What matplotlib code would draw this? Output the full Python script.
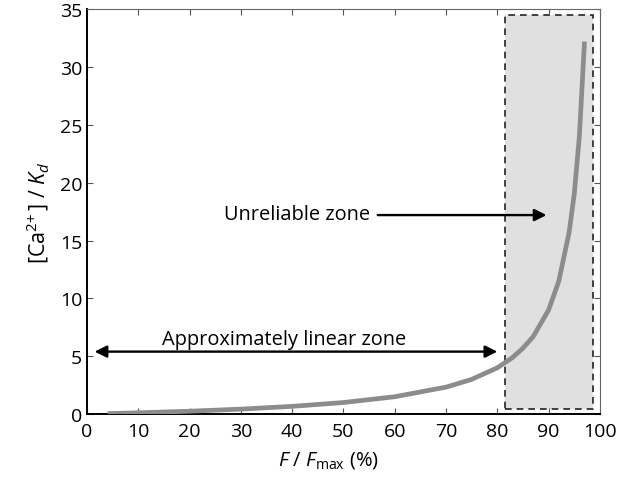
import matplotlib
matplotlib.use("Agg")
import matplotlib.pyplot as plt
from matplotlib.patches import Rectangle

plt.rcParams["font.family"] = ["Open Sans", "DejaVu Sans"]
plt.rcParams["mathtext.fontset"] = "custom"
plt.rcParams["mathtext.rm"] = "Open Sans"
plt.rcParams["mathtext.it"] = "Open Sans:italic"

# values
f_pct = [4, 10, 20, 30, 40, 50, 60, 70, 75, 80, 83, 85, 87, 90, 92, 94, 95, 96, 97]
ca_kd = [0.04, 0.11, 0.25, 0.43, 0.67, 1.0, 1.5, 2.33, 3.0, 4.0, 4.9, 5.7, 6.7,
         9.0, 11.5, 15.7, 19.0, 24.0, 32.2]

x_ticks = [0, 10, 20, 30, 40, 50, 60, 70, 80, 90, 100]
y_ticks = [0, 5, 10, 15, 20, 25, 30, 35]

zone_x = (81.5, 98.6)
zone_y = (0.4, 34.5)

fig = plt.figure(figsize=(6.21, 4.81), dpi=100)
ax = fig.add_axes([0.140, 0.137, 0.826, 0.842])

ax.add_patch(Rectangle((zone_x[0], zone_y[0]), zone_x[1] - zone_x[0],
                       zone_y[1] - zone_y[0], facecolor="#e0e0e0",
                       edgecolor="#222222", linestyle=(0, (4, 3)),
                       linewidth=1.2, zorder=1))

ax.plot(f_pct, ca_kd, color="#8c8c8c", linewidth=3.4, zorder=3,
        solid_capstyle="butt")

ax.annotate("", xy=(1.5, 5.4), xytext=(80, 5.4),
            arrowprops=dict(arrowstyle="<|-|>", color="black", lw=1.7,
                            mutation_scale=18, shrinkA=0, shrinkB=0))
ax.text(38.4, 6.5, "Approximately linear zone", ha="center", va="center",
        fontsize=14.4)

ax.annotate("", xy=(89.6, 17.2), xytext=(56.7, 17.2),
            arrowprops=dict(arrowstyle="-|>", color="black", lw=1.7,
                            mutation_scale=18, shrinkA=0, shrinkB=0))
ax.text(41.0, 17.3, "Unreliable zone", ha="center", va="center",
        fontsize=14.4)

ax.set_xlim(0, 100)
ax.set_ylim(0, 35)
ax.set_xticks(x_ticks)
ax.set_yticks(y_ticks)
ax.tick_params(direction="in", top=True, right=True, labelsize=14,
               length=4, color="#555555")
ax.tick_params(axis="x", pad=6)
for side in ["left", "bottom"]:
    ax.spines[side].set_linewidth(1.4)
for side in ["top", "right"]:
    ax.spines[side].set_color("#666666")

ax.set_xlabel(r"$\mathit{F}$ / $\mathit{F}_{\mathrm{max}}$ (%)", fontsize=14.5)
ax.xaxis.set_label_coords(0.47, -0.085)
ax.set_ylabel(r"[Ca$^{2\!+}$] / $\mathit{K}_{\mathit{d}}$",
              fontsize=15.5, labelpad=6)

fig.savefig("out.png", dpi=100)
